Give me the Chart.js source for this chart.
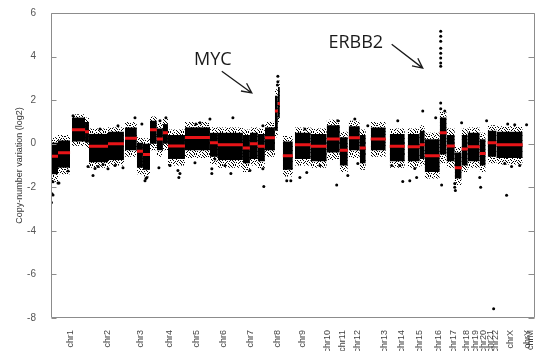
<!DOCTYPE html>
<html>
<head>
<meta charset="utf-8">
<script src="https://cdn.jsdelivr.net/npm/chart.js@4.4.0/dist/chart.umd.min.js"></script>
<style>
  html, body { margin: 0; padding: 0; background: #fff; }
  #wrap { width: 540px; height: 351px; }
</style>
</head>
<body>
<div id="wrap"><canvas id="cnv"></canvas></div>
<script>
// genome position (Mb-like units along the x axis)
const chromNames = ['chr1', 'chr2', 'chr3', 'chr4', 'chr5', 'chr6', 'chr7', 'chr8', 'chr9', 'chr10', 'chr11', 'chr12',
    'chr13', 'chr14', 'chr15', 'chr16', 'chr17', 'chr18', 'chr19', 'chr20', 'chr21', 'chr22', 'chrX', 'chrY', 'chrM']
const chromPos = [122, 359, 576, 762, 929, 1102, 1275, 1448, 1614, 1768, 1864, 1966,
    2133, 2248, 2363, 2479, 2581, 2664, 2722, 2773, 2818, 2850, 2940, 3055, 3074]

// segments: start, end, segment mean (red), dense band low/high, sparse scatter low/high
const segStart = [0, 45, 134, 218, 243, 365, 474, 550, 589, 634, 678, 717, 749, 858, 1018, 1069, 1229, 1274, 1325, 1370,
    1434, 1453, 1485, 1562, 1664, 1766, 1850, 1907, 1978, 2048, 2170, 2285, 2362, 2394, 2490, 2534, 2586, 2630, 2669, 2746, 2797, 2854]
const segEnd = [45, 122, 218, 243, 365, 467, 550, 589, 634, 678, 717, 749, 858, 1018, 1069, 1229, 1274, 1325, 1370, 1434,
    1453, 1466, 1549, 1664, 1766, 1850, 1901, 1978, 2016, 2144, 2266, 2362, 2394, 2490, 2534, 2586, 2630, 2669, 2746, 2784, 2854, 3021]
const segMean = [-0.58, -0.42, 0.64, 0.55, -0.12, 0.0, 0.25, -0.35, -0.5, 0.64, 0.22, 0.5, -0.1, 0.28, 0.05, -0.05, -0.2, 0.0, -0.12, 0.27,
    1.5, 1.85, -0.55, -0.05, -0.12, 0.22, -0.3, 0.27, -0.2, 0.22, -0.12, -0.14, -0.05, -0.55, 0.5, -0.1, -1.1, -0.24, -0.14, -0.45, 0.05, -0.05]
const segLow = [-1.4, -1.1, 0.1, 0.05, -0.85, -0.75, -0.3, -1.1, -1.2, 0.0, -0.3, 0.0, -0.7, -0.3, -0.6, -0.75, -0.9, -0.7, -0.8, -0.3,
    0.6, 1.2, -1.2, -0.7, -0.8, -0.4, -1.0, -0.3, -0.9, -0.3, -0.8, -0.8, -0.7, -1.3, -0.5, -0.8, -1.6, -1.0, -0.8, -1.0, -0.6, -0.65]
const segHigh = [0.05, 0.15, 1.2, 1.0, 0.45, 0.55, 0.75, 0.05, 0.0, 1.05, 0.7, 0.9, 0.4, 0.75, 0.5, 0.5, 0.4, 0.5, 0.45, 0.75,
    2.2, 2.6, 0.1, 0.5, 0.45, 0.85, 0.3, 0.8, 0.4, 0.75, 0.45, 0.45, 0.6, 0.2, 1.2, 0.4, -0.4, 0.4, 0.5, 0.2, 0.6, 0.55]
const sparseLow = [-1.75, -1.4, -0.1, -0.2, -1.1, -1.0, -0.6, -1.4, -1.5, -0.3, -0.6, -0.3, -1.0, -0.65, -0.95, -1.1, -1.3, -1.0, -1.15, -0.6,
    0.3, 0.9, -1.5, -1.0, -1.1, -0.75, -1.3, -0.65, -1.2, -0.6, -1.1, -1.1, -1.0, -1.6, -0.9, -1.1, -1.9, -1.3, -1.1, -1.3, -0.9, -0.95]
const sparseHigh = [0.3, 0.4, 1.35, 1.2, 0.7, 0.75, 1.0, 0.3, 0.25, 1.25, 0.95, 1.15, 0.65, 1.0, 0.75, 0.75, 0.65, 0.75, 0.7, 1.0,
    2.5, 2.9, 0.35, 0.75, 0.7, 1.1, 0.55, 1.05, 0.65, 1.0, 0.7, 0.7, 0.85, 0.5, 1.5, 0.7, -0.15, 0.7, 0.75, 0.5, 0.85, 0.8]

// single probes away from the bands
const outlierX = [237, 269, 301, 333, 365, 461, 602, 614, 691, 45, 6, 13, 3, 13, 109, 582, 698, 141, 51, 608,
    1018, 826, 1030, 1152, 1453, 1453, 1450, 1357, 1498, 1510, 1363, 819, 1030, 1050, 1830, 2253, 1536, 1594, 1638, 1901,
    1837, 2029, 2182, 2381, 2496, 2496, 2496, 2496, 2496, 2496, 2496, 2496, 2496, 2496, 2502, 2586, 2586, 2590, 2746, 2752,
    2918, 3046, 2790, 3002, 2342, 2298, 2835,
    314, 429, 538, 736, 954, 1165, 928, 1357, 1626, 1946, 2221, 2464, 2522, 2630, 2925, 2970,
    282, 410, 762, 813, 922, 1114, 1274, 1722, 1965, 2234, 2330, 2906, 2950]
const outlierY = [-1.05, -1.46, -1.05, -0.95, -1.15, -1.1, -1.7, -1.55, -1.1, -1.8, -2.3, -1.75, -2.7, -2.35, -1.25, 0.9, 1.05, 1.28, -1.8, -1.6,
    1.14, -1.37, -1.37, -1.37, 3.1, 2.85, 2.7, -1.15, -1.1, -1.7, -1.96, -1.55, -1.15, -0.7, -1.9, -1.74, -1.7, -1.55, -1.32, -1.46,
    1.05, 0.82, -1.0, 1.5, 5.16, 4.93, 4.7, 4.38, 4.15, 3.93, 3.7, 3.56, 1.87, 1.6, -1.9, -1.83, -2.0, -2.15, -1.55, -2.0,
    -2.37, 0.87, 1.05, -1.0, -1.55, -1.7, -7.58,
    0.68, 0.82, 1.19, 1.19, 0.96, 1.19, 0.91, 0.82, 0.68, 1.14, 1.05, 1.19, 1.5, 0.96, 0.91, 0.87,
    -1.14, -1.0, -1.0, -1.23, -0.87, -1.0, -1.23, -1.0, -0.91, -1.0, -1.14, -0.91, -1.05]

const geneNames = ['MYC', 'ERBB2']

// speckle texture for the sparse part of each band (hand-placed pixels per row)
function speckle() {
    const rows = [[1, 5, 9, 12], [3, 7, 10], [0, 4, 8, 11], [2, 6, 9], [0, 5, 10, 12], [3, 7],
        [1, 4, 9, 11], [6, 8, 12], [0, 2, 5, 10], [4, 7, 11], [1, 8, 12]]
    const c = document.createElement('canvas')
    c.width = 13
    c.height = 11
    const g = c.getContext('2d')
    g.fillStyle = '#000'
    rows.forEach((cols, y) => cols.forEach(x => g.fillRect(x, y, 1, 1)))
    return g.createPattern(c, 'repeat')
}
const dots = speckle()

const datasets = []

// red segment means, one line broken by gaps
const meanPts = []
segStart.forEach((s, i) => {
    meanPts.push({ x: s, y: segMean[i] })
    meanPts.push({ x: segEnd[i], y: segMean[i] })
    meanPts.push({ x: segEnd[i], y: null })
})
datasets.push({
    data: meanPts,
    showLine: true,
    spanGaps: false,
    borderColor: 'rgb(232, 20, 24)',
    borderWidth: 3,
    pointRadius: 0,
    order: 0,
})

datasets.push({
    data: outlierX.map((x, i) => ({ x: x, y: outlierY[i] })),
    backgroundColor: '#000',
    borderWidth: 0,
    pointRadius: 1.5,
    order: 1,
})

segStart.forEach((s, i) => {
    // dense core
    datasets.push({
        data: [{ x: s, y: segHigh[i] }, { x: segEnd[i], y: segHigh[i] }],
        showLine: true,
        borderWidth: 0,
        backgroundColor: '#000',
        fill: { value: segLow[i] },
        pointRadius: 0,
        order: 2,
    })
    // sparse scatter around it
    datasets.push({
        data: [{ x: s, y: sparseHigh[i] }, { x: segEnd[i], y: sparseHigh[i] }],
        showLine: true,
        borderWidth: 0,
        backgroundColor: dots,
        fill: { value: sparseLow[i] },
        pointRadius: 0,
        order: 3,
    })
})

const frame = {
    id: 'frame',
    afterDraw(chart, args, opts) {
        const { ctx, chartArea: a, scales } = chart
        ctx.save()
        const l = Math.round(a.left) + 0.5, t = Math.round(a.top) + 0.5
        const r = Math.round(a.right) - 0.5, b = Math.round(a.bottom) - 0.5
        ctx.strokeStyle = '#8c8c8c'
        ctx.lineWidth = 1
        ctx.beginPath()
        ctx.moveTo(l, t); ctx.lineTo(r, t); ctx.lineTo(r, b); ctx.lineTo(l, b); ctx.closePath()
        scales.y.ticks.forEach(tk => {
            const y = Math.round(scales.y.getPixelForValue(tk.value)) + 0.5
            ctx.moveTo(l, y); ctx.lineTo(l + 5, y)
            ctx.moveTo(r - 6, y); ctx.lineTo(r, y)
        })
        ctx.stroke()

        // axis title
        ctx.fillStyle = '#333'
        ctx.font = '9px "Liberation Sans"'
        ctx.textAlign = 'center'
        ctx.textBaseline = 'middle'
        ctx.translate(20, (a.top + a.bottom) / 2)
        ctx.rotate(-Math.PI / 2)
        ctx.fillText(opts.title, 0, 0)
        ctx.setTransform(1, 0, 0, 1, 0, 0)

        // gene labels with arrows
        ctx.fillStyle = '#1a1a1a'
        ctx.strokeStyle = '#1a1a1a'
        ctx.lineWidth = 1.3
        ctx.font = '18px "Open Sans"'
        opts.labels.forEach((lb, i) => {
            ctx.fillText(geneNames[i], scales.x.getPixelForValue(lb.x), scales.y.getPixelForValue(lb.y))
            const x1 = scales.x.getPixelForValue(lb.ax1), y1 = scales.y.getPixelForValue(lb.ay1)
            const x2 = scales.x.getPixelForValue(lb.ax2), y2 = scales.y.getPixelForValue(lb.ay2)
            const ang = Math.atan2(y2 - y1, x2 - x1)
            ctx.beginPath()
            ctx.moveTo(x1, y1); ctx.lineTo(x2, y2)
            ctx.moveTo(x2 - 11 * Math.cos(ang - 0.45), y2 - 11 * Math.sin(ang - 0.45))
            ctx.lineTo(x2, y2)
            ctx.lineTo(x2 - 11 * Math.cos(ang + 0.45), y2 - 11 * Math.sin(ang + 0.45))
            ctx.stroke()
        })
        ctx.restore()
    }
}

new Chart(document.getElementById('cnv'), {
    type: 'scatter',
    data: { datasets: datasets },
    options: {
        responsive: true,
        maintainAspectRatio: false,
        animation: false,
        layout: { padding: { left: 0, top: 11, right: 5, bottom: 0 } },
        plugins: {
            legend: false,
            tooltip: { enabled: false },
            frame: {
                title: 'Copy-number variation (log2)',
                labels: [
                    { x: 1037, y: 3.86, ax1: 1094, ay1: 3.33, ax2: 1286, ay2: 2.33 },
                    { x: 1952, y: 4.61, ax1: 2182, ay1: 4.57, ax2: 2381, ay2: 3.47 },
                ]
            }
        },
        scales: {
            x: {
                type: 'linear',
                min: 0,
                max: 3100,
                afterBuildTicks: s => { s.ticks = chromPos.map(v => ({ value: v })) },
                afterFit: s => { s.height = 33; s.paddingRight = 0; s.paddingLeft = 0 },
                ticks: {
                    autoSkip: false,
                    maxRotation: 90,
                    minRotation: 90,
                    padding: 4,
                    color: '#444',
                    font: { family: 'Liberation Sans', size: 9 },
                    callback: (v, i) => chromNames[i],
                },
                grid: { display: false },
                border: { display: false },
            },
            y: {
                min: -8,
                max: 6,
                afterFit: s => { s.width = 51 },
                ticks: {
                    stepSize: 2,
                    padding: 7,
                    color: '#555',
                    font: { family: 'Liberation Sans', size: 10 },
                },
                grid: { display: false },
                border: { display: false },
            },
        },
    },
    plugins: [frame],
})
</script>
</body>
</html>
